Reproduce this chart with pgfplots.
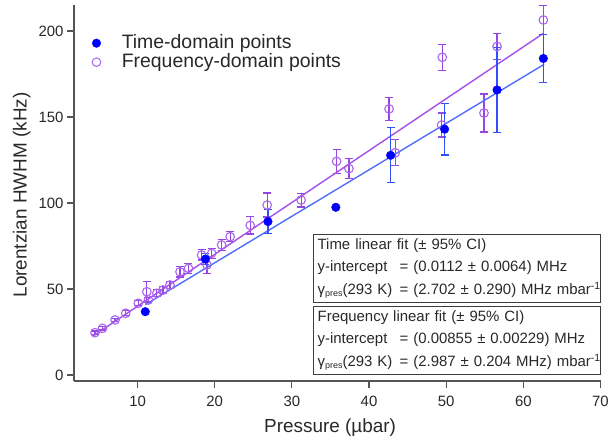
\documentclass[border=0pt]{standalone}
\usepackage{pgfplots}
\pgfplotsset{compat=1.18}
\usepackage{pgfplotstable}
\usepackage{fontspec}
\setmainfont{Liberation Sans}
\definecolor{axisgray}{RGB}{85,85,85}
\definecolor{labelgray}{RGB}{40,40,40}
\definecolor{timeblue}{RGB}{0,0,255}
\definecolor{timeline}{RGB}{80,110,250}
\definecolor{timeerr}{RGB}{50,80,250}
\definecolor{freqpt}{RGB}{170,100,240}
\definecolor{freqline}{RGB}{165,80,235}
\definecolor{freqerr}{RGB}{150,70,225}
\newcommand{\gpres}{γ{\fontsize{9}{9}\selectfont\raisebox{-2.5bp}{pres}}(293 K)}

\pgfplotstableread{
x y e
11.0 36.8 0
18.8 67.4 3
26.9 89.2 7
35.7 97.5 0
42.8 127.7 16
49.8 142.9 15
56.6 165.7 24.5
62.6 184.0 14
}\timedata

\pgfplotstableread{
x y e
4.48 24.6 1
5.45 27.1 1
7.08 32.0 1
8.46 35.9 1.5
10.1 41.7 1.5
11.2 48.4 6
11.4 43.6 1.5
12.5 47.5 2
13.3 49.4 2
14.2 52.3 2
15.5 60.0 3
16.6 62.0 3
18.3 69.8 3
19.0 64.0 5
19.6 70.7 3
20.9 75.6 3
22.0 80.4 3
24.6 87.0 5
26.8 98.8 7
31.2 101.7 4
35.8 124.2 7
37.4 120.0 6
42.6 154.7 6.6
43.4 129.2 7.5
49.5 184.7 7.5
49.4 145.3 7
54.9 152.3 11
56.6 191.0 7.5
62.6 206.4 8.5
}\freqdata

\begin{document}
\begin{tikzpicture}
\useasboundingbox (-74bp,-57bp) rectangle (535bp,381bp);
\begin{axis}[
  scale only axis, width=527bp, height=376bp,
  xmin=1.76, xmax=70.07, ymin=-3.5, ymax=215.1,
  axis lines=left,
  axis line style={-, draw=axisgray, line width=1.2bp},
  tick align=outside,
  major tick length=7bp,
  tick style={draw=axisgray, line width=1.2bp},
  xtick={10,20,...,70}, ytick={0,50,...,200},
  minor tick num=0,
  /pgf/number format/assume math mode=true,
  ticklabel style={font=\fontsize{15}{15}\selectfont, text=labelgray},
  xticklabel style={yshift=-5bp},
  xlabel={Pressure (µbar)},
  ylabel={Lorentzian HWHM (kHz)},
  every axis x label/.style={at={(axis description cs:0.486,0)}, yshift=-46.5bp, anchor=center, font=\fontsize{19}{19}\selectfont, text=labelgray},
  every axis y label/.style={at={(axis description cs:0,0.495)}, xshift=-52.3bp, rotate=90, anchor=center, font=\fontsize{19}{19}\selectfont, text=labelgray},
  legend cell align=left,
  legend style={at={(axis description cs:0,1)}, anchor=north west, xshift=15bp, yshift=-27bp,
    draw=none, fill=none, font=\fontsize{19.5}{19.5}\selectfont, text=labelgray, row sep=1bp,
    nodes={inner ysep=0pt, text height=14bp, text depth=4bp},
    /tikz/every odd column/.append style={column sep=19bp}},
  clip=false,
]
\addlegendimage{only marks, mark=*, mark size=4.3bp, draw=timeblue, fill=timeblue}
\addlegendentry{Time-domain points}
\addlegendimage{only marks, mark=o, mark size=4.3bp, draw=freqpt, line width=1bp}
\addlegendentry{Frequency-domain points}

% frequency points
\addplot[forget plot, only marks, mark=o, mark size=4.3bp, draw=freqpt, line width=1.1bp,
  error bars/.cd, y dir=both, y explicit, error mark=-,
  error bar style={draw=freqerr, line width=1.2bp},
  error mark options={rotate=90, draw=freqerr, line width=1.2bp, mark size=4bp}]
  table[x=x, y=y, y error=e] {\freqdata};
% fits
\addplot[forget plot, freqline, line width=1.4bp] coordinates {(4.2,22.5) (62.6,198.6)};
\addplot[forget plot, timeline, line width=1.4bp] coordinates {(11.0,40.9) (62.7,180.6)};
% time points
\addplot[forget plot, only marks, mark=*, mark size=4.3bp, draw=timeblue, fill=timeblue,
  error bars/.cd, y dir=both, y explicit, error mark=-,
  error bar style={draw=timeerr, line width=1.2bp},
  error mark options={rotate=90, draw=timeerr, line width=1.2bp, mark size=4bp}]
  table[x=x, y=y, y error=e] {\timedata};
\end{axis}
\begin{scope}[every node/.style={draw={rgb,255:red,60;green,60;blue,60}, line width=1.3bp, anchor=north west,
   text width=279bp, inner xsep=4bp, inner ysep=3bp, align=left,
   font=\fontsize{15}{22.5}\selectfont, text=labelgray, minimum height=68bp}]
\node at (239bp,147bp) {\mbox{Time linear fit (± 95\% CI)}\\
\mbox{\makebox[82bp][l]{y-intercept}= (0.0112 ± 0.0064) MHz}\\
\mbox{\makebox[82bp][l]{\gpres}= (2.702 ± 0.290) MHz mbar\textsuperscript{-1}}};
\node at (239bp,75bp) {\mbox{Frequency linear fit (± 95\% CI)}\\
\mbox{\makebox[82bp][l]{y-intercept}= (0.00855 ± 0.00229) MHz}\\
\mbox{\makebox[82bp][l]{\gpres}= (2.987 ± 0.204 MHz) mbar\textsuperscript{-1}}};
\end{scope}
\end{tikzpicture}
\end{document}
